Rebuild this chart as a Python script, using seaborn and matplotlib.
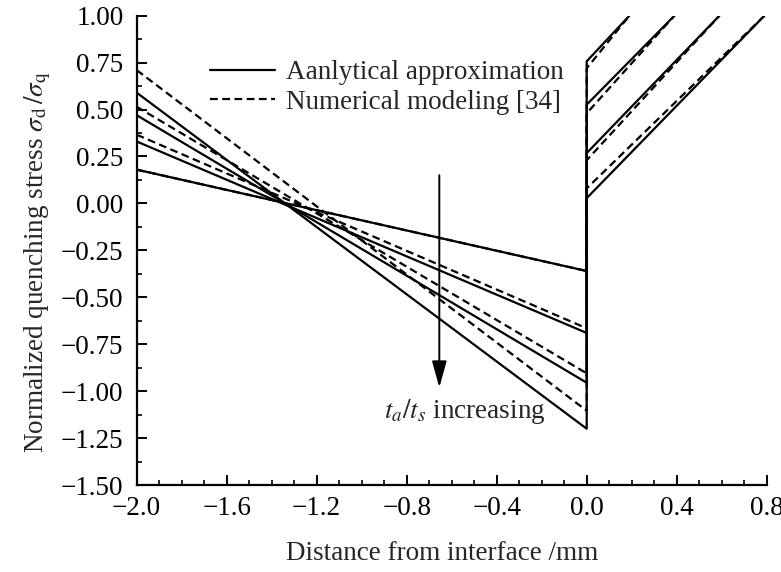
import matplotlib
matplotlib.use("Agg")
import matplotlib.pyplot as plt
from matplotlib.ticker import MultipleLocator, FuncFormatter
import seaborn as sns
import pandas as pd

# four cases, t_a/t_s increasing
x_start = -2.0
x_iface = 0.0
y_top = 1.0

solid_left = [0.18, 0.33, 0.47, 0.59]
solid_iface_low = [-0.36, -0.69, -0.955, -1.20]
solid_iface_high = [0.757, 0.526, 0.268, 0.028]

dashed_left = [0.18, 0.366, 0.515, 0.71]
dashed_iface_low = [-0.36, -0.665, -0.905, -1.104]
dashed_iface_high = [0.72, 0.48, 0.23, 0.08]

end_x = [0.19, 0.39, 0.59, 0.79]

labels = ["Aanlytical approximation", "Numerical modeling [34]"]

rows = []
for method, left, low, high in [
    (labels[0], solid_left, solid_iface_low, solid_iface_high),
    (labels[1], dashed_left, dashed_iface_low, dashed_iface_high),
]:
    for i in range(4):
        pts = [(x_start, left[i]), (x_iface, low[i]), (x_iface, high[i]), (end_x[i], y_top)]
        for x, y in pts:
            rows.append({"x": x, "y": y, "case": f"{method}-{i}", "method": method})
df = pd.DataFrame(rows)

sns.set_style("ticks")
plt.rcParams["font.family"] = ["Liberation Serif", "DejaVu Serif"]
plt.rcParams["mathtext.fontset"] = "stix"
fs = 19.5

fig = plt.figure(figsize=(7.81, 5.72), dpi=100)
ax = fig.add_axes([0.175, 0.152, 0.8067, 0.8206])

sns.lineplot(
    data=df, x="x", y="y", units="case", style="method",
    estimator=None, sort=False, color="black", linewidth=1.6,
    dashes={labels[0]: "", labels[1]: (3.5, 2.0)}, ax=ax
)

handles, lbls = ax.get_legend_handles_labels()
ax.legend(handles, lbls, loc="upper left", bbox_to_anchor=(0.116, 0.905),
          frameon=False, fontsize=fs, handlelength=2.4, handletextpad=0.4,
          labelspacing=0.17, borderpad=0, borderaxespad=0)

ax.annotate("", xy=(-0.655, -0.995), xytext=(-0.655, 0.165),
            arrowprops=dict(arrowstyle="-|>,head_length=0.9,head_width=0.25",
                            color="black", lw=1.4, mutation_scale=18))
ax.text(-0.9, -1.11, r"$t_a/t_s$ increasing", fontsize=fs,
        ha="left", va="center")


def minus(fmt):
    return FuncFormatter(lambda v, p: fmt.format(v).replace("-", "\u2212"))


ax.set_xlim(-2.0, 0.8)
ax.set_ylim(-1.5, 1.0)
ax.xaxis.set_major_locator(MultipleLocator(0.4))
ax.xaxis.set_minor_locator(MultipleLocator(0.1))
ax.yaxis.set_major_locator(MultipleLocator(0.25))
ax.yaxis.set_minor_locator(MultipleLocator(0.125))
ax.xaxis.set_major_formatter(minus("{:.1f}"))
ax.yaxis.set_major_formatter(minus("{:.2f}"))
ax.tick_params(which="major", direction="in", length=7, width=1.4,
               labelsize=fs, color="black", labelcolor="black")
ax.tick_params(which="minor", direction="in", length=3.5, width=1.2,
               color="black")
ax.tick_params(axis="x", pad=8)
ax.tick_params(axis="y", pad=9.5)
for s in ["left", "bottom"]:
    ax.spines[s].set_linewidth(1.6)
    ax.spines[s].set_color("black")
sns.despine(ax=ax)

ax.set_xlabel("Distance from interface /mm", fontsize=fs, labelpad=14)
ax.set_ylabel(r"Normalized quenching stress $\sigma_{\mathrm{d}}\,/\sigma_{\mathrm{q}}$",
              fontsize=fs, labelpad=6)
ax.xaxis.label.set_x(0.485)
ax.yaxis.label.set_y(0.475)

fig.savefig("out.png", dpi=100)
